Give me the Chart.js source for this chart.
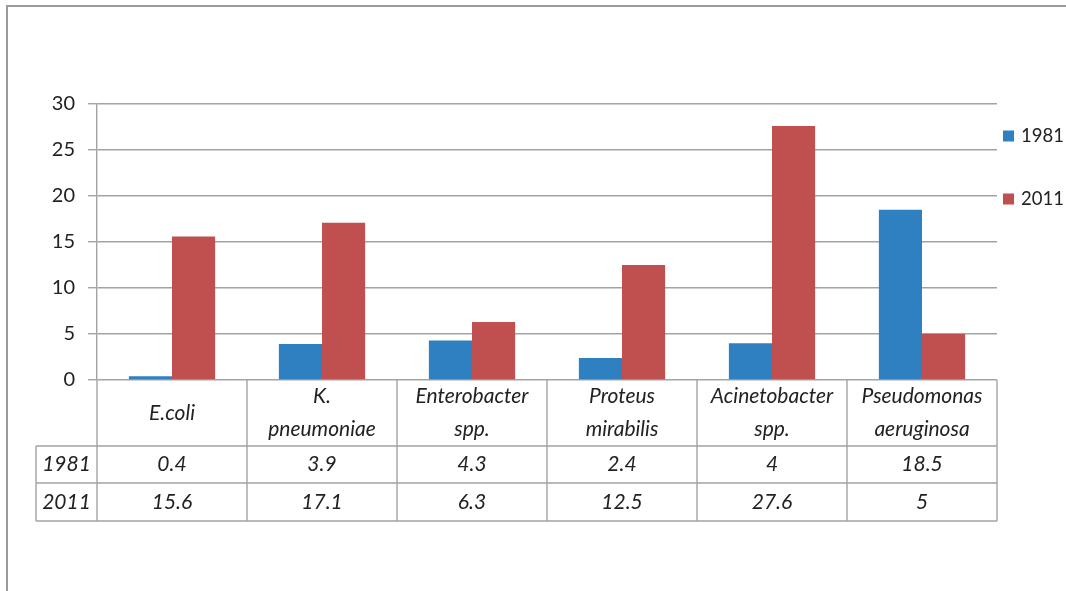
<!DOCTYPE html>
<html>
<head>
<meta charset="utf-8">
<script src="https://cdn.jsdelivr.net/npm/chart.js@4/dist/chart.umd.min.js"></script>
<style>
  html, body { margin: 0; padding: 0; background: #ffffff; }
  #wrap { width: 1066px; height: 591px; position: relative; }
</style>
</head>
<body>
<div id="wrap"><canvas id="c" width="1066" height="591"></canvas></div>
<script>
// Isolates per organism (%), 1981 vs 2011
const categories = [
  ['E.coli'],
  ['K.', 'pneumoniae'],
  ['Enterobacter', 'spp.'],
  ['Proteus', 'mirabilis'],
  ['Acinetobacter', 'spp.'],
  ['Pseudomonas', 'aeruginosa']
];
const seriesNames = ['1981', '2011'];
const values1981 = [0.4, 3.9, 4.3, 2.4, 4, 18.5];
const values2011 = [15.6, 17.1, 6.3, 12.5, 27.6, 5];
const yTicks = [0, 5, 10, 15, 20, 25, 30];

const BLUE = '#2e80c0';
const RED = '#c0504f';
const GRID = '#a3a3a7';
const TEXT = '#222222';
const FONT = 'Lato, "Open Sans", "Liberation Sans", sans-serif';

// Outer frame, data table under the axis, and the side legend
const decorations = {
  id: 'decorations',
  beforeDraw(chart) {
    const ctx = chart.ctx;
    ctx.save();
    ctx.strokeStyle = '#9a9a9e';
    ctx.lineWidth = 2;
    ctx.beginPath();
    ctx.moveTo(7, 591);
    ctx.lineTo(7, 6);
    ctx.lineTo(1066, 6);
    ctx.stroke();
    ctx.restore();
  },
  afterDraw(chart) {
    const ctx = chart.ctx;
    const area = chart.chartArea;
    const x = chart.scales.x;
    const left = area.left, right = area.right, top = area.bottom;
    const rowLabelLeft = 36;
    const headerBottom = 446, row1Bottom = 483, row2Bottom = 521;
    const n = categories.length;
    const colW = (right - left) / n;

    ctx.save();
    ctx.strokeStyle = GRID;
    ctx.lineWidth = 1.4;
    ctx.beginPath();
    // horizontal rules
    [headerBottom, row1Bottom, row2Bottom].forEach(yy => {
      ctx.moveTo(rowLabelLeft, yy);
      ctx.lineTo(right, yy);
    });
    // vertical rules
    ctx.moveTo(rowLabelLeft, headerBottom);
    ctx.lineTo(rowLabelLeft, row2Bottom);
    for (let i = 0; i <= n; i++) {
      const xx = left + i * colW;
      ctx.moveTo(xx, top);
      ctx.lineTo(xx, row2Bottom);
    }
    ctx.stroke();

    // header text
    ctx.fillStyle = TEXT;
    ctx.font = 'italic 21px ' + FONT;
    ctx.textAlign = 'center';
    ctx.textBaseline = 'middle';
    const headerMid = (top + headerBottom) / 2;
    categories.forEach((lines, i) => {
      const cx = x.getPixelForValue(i);
      const lh = 33;
      const y0 = headerMid - (lines.length - 1) * lh / 2;
      lines.forEach((t, j) => ctx.fillText(t, cx, y0 + j * lh));
    });

    // value rows
    const rows = [values1981, values2011];
    const rowMids = [(headerBottom + row1Bottom) / 2, (row1Bottom + row2Bottom) / 2];
    rows.forEach((vals, r) => {
      ctx.fillText(seriesNames[r], (rowLabelLeft + left) / 2, rowMids[r]);
      vals.forEach((v, i) => ctx.fillText(String(v), x.getPixelForValue(i), rowMids[r]));
    });

    // legend
    ctx.font = '18.5px ' + FONT;
    ctx.textAlign = 'left';
    const legendY = [136, 199];
    [BLUE, RED].forEach((c, i) => {
      ctx.fillStyle = c;
      ctx.fillRect(1003, legendY[i] - 5.5, 11, 11);
      ctx.fillStyle = TEXT;
      ctx.fillText(seriesNames[i], 1021, legendY[i]);
    });
    ctx.restore();
  }
};

new Chart(document.getElementById('c'), {
  type: 'bar',
  data: {
    labels: categories.map(l => l.join(' ')),
    datasets: [
      { label: seriesNames[0], data: values1981, backgroundColor: BLUE, borderWidth: 0 },
      { label: seriesNames[1], data: values2011, backgroundColor: RED, borderWidth: 0 }
    ]
  },
  options: {
    responsive: false,
    animation: false,
    devicePixelRatio: 1,
    layout: { padding: { left: 0, right: 69, top: 104, bottom: 211 } },
    datasets: { bar: { categoryPercentage: 0.575, barPercentage: 1 } },
    plugins: { legend: { display: false }, tooltip: { enabled: false } },
    scales: {
      x: { display: false },
      y: {
        min: 0,
        max: 30,
        afterFit(scale) { scale.width = 97; },
        afterBuildTicks(scale) { scale.ticks = yTicks.map(v => ({ value: v })); },
        ticks: { color: TEXT, font: { family: FONT, size: 20 }, padding: 13 },
        grid: { color: GRID, lineWidth: 1.4, tickLength: 9, drawTicks: true },
        border: { display: true, color: GRID, width: 1.4 }
      }
    }
  },
  plugins: [decorations]
});
</script>
</body>
</html>
